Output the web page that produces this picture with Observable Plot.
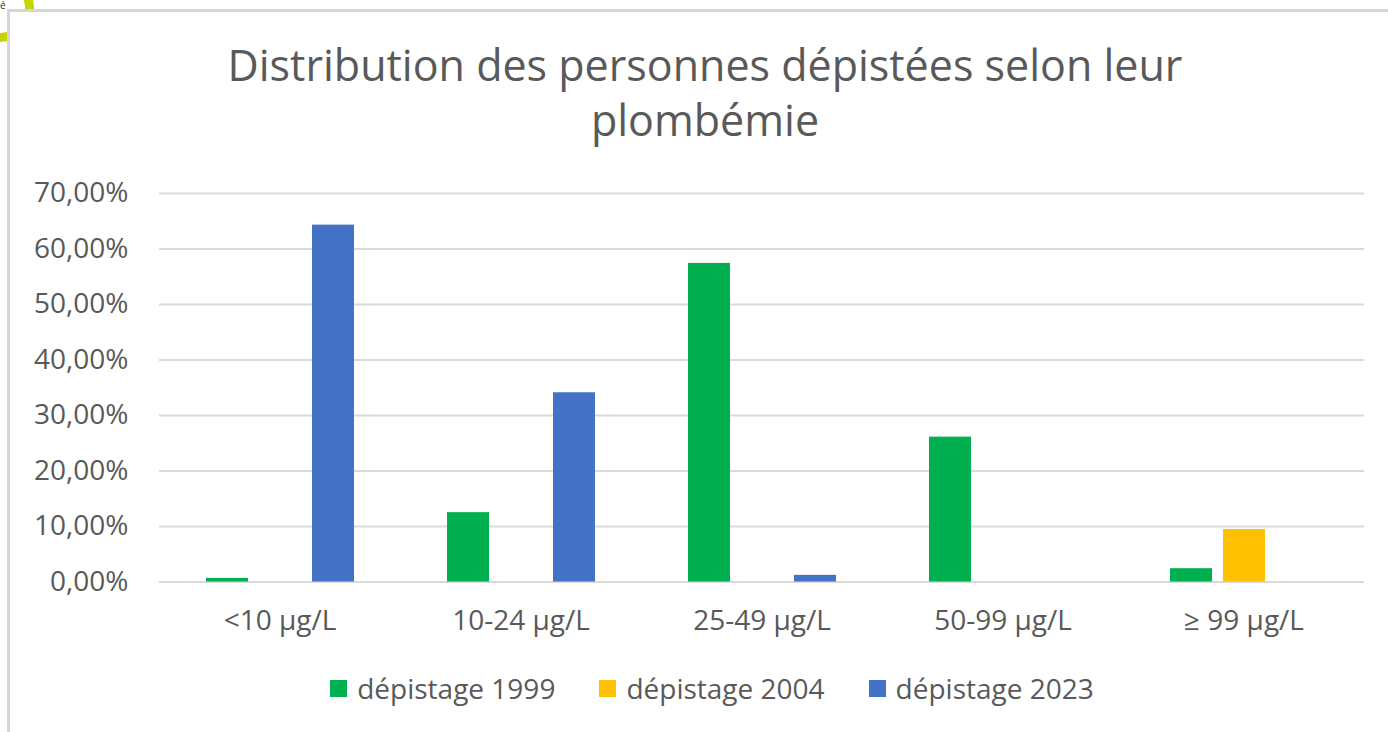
<!DOCTYPE html>
<html>
<head>
<meta charset="utf-8">
<script src="https://cdn.jsdelivr.net/npm/d3@7"></script>
<script src="https://cdn.jsdelivr.net/npm/@observablehq/plot@0.6"></script>
<style>
  html, body { margin: 0; padding: 0; background: #fff; }
  body { width: 1388px; height: 732px; position: relative; overflow: hidden; font-family: "Open Sans", sans-serif; color: #595959; }
  #arc { position: absolute; left: -34px; top: -26px; width: 50px; height: 50px; border: 9px solid #c8d400; border-radius: 50%; }
  #frame { position: absolute; left: 7px; top: 9px; width: 1400px; height: 740px; border-left: 3px solid #d6d6d6; border-top: 3px solid #d6d6d6; background: #fff; }
  #corner { position: absolute; left: 0; top: -2px; font-size: 10px; color: #333; }
  #title { position: absolute; left: 0; top: 37px; width: 1410px; text-align: center; font-size: 43px; line-height: 55px; color: #595959; }
  #chart { position: absolute; left: 0; top: 170px; }
  #legend { position: absolute; left: 0; top: 669px; width: 1424px; display: flex; justify-content: center; gap: 44px; font-size: 28px; line-height: 38px; color: #595959; }
  .item { display: flex; align-items: center; }
  .sw { width: 17px; height: 17px; margin-right: 10px; }
</style>
</head>
<body>
<div id="arc"></div>
<div id="frame"></div>
<div id="corner">é</div>
<div id="title">Distribution des personnes dépistées selon leur<br>plombémie</div>
<div id="chart"></div>
<div id="legend"></div>
<script>
const categories = ["<10 µg/L", "10-24 µg/L", "25-49 µg/L", "50-99 µg/L", "≥ 99 µg/L"];
const series = ["dépistage 1999", "dépistage 2004", "dépistage 2023"];
const colors = ["#00B050", "#FFC000", "#4472C4"];
const values1999 = [0.65, 12.5, 57.4, 26.1, 2.4];
const values2004 = [0, 0, 0, 0, 9.45];
const values2023 = [64.3, 34.1, 1.2, 0, 0];
const yTicks = [0, 10, 20, 30, 40, 50, 60, 70];

const allValues = [values1999, values2004, values2023];
const data = [];
categories.forEach((c, i) => {
  series.forEach((s, j) => {
    data.push({ category: c, series: s, value: allValues[j][i] });
  });
});

const fmt = d => d.toFixed(2).replace(".", ",") + "%";

const chart = Plot.plot({
  width: 1388,
  height: 472,
  marginLeft: 158,
  marginRight: 23,
  marginTop: 23,
  marginBottom: 60.5,
  style: { fontFamily: "Open Sans, sans-serif", fontSize: "28px", color: "#595959", background: "transparent", overflow: "visible" },
  fx: { domain: categories, padding: 0, label: null },
  x: { domain: series, paddingInner: 0.215, paddingOuter: 0.87, axis: null },
  y: { domain: [0, 70], label: null },
  color: { domain: series, range: colors },
  marks: [
    Plot.ruleY(yTicks, { stroke: "#d9d9d9", strokeWidth: 2 }),
    Plot.barY(data, { fx: "category", x: "series", y: "value", fill: "series" }),
    Plot.axisFx({ anchor: "bottom", tickSize: 0, tickPadding: 28, fontSize: 28, label: null, fill: "#595959" }),
    Plot.axisY({ ticks: yTicks, tickFormat: fmt, tickSize: 0, tickPadding: 31, fontSize: 28, label: null, fill: "#595959" })
  ]
});
document.getElementById("chart").appendChild(chart);

const legend = document.getElementById("legend");
series.forEach((s, j) => {
  const item = document.createElement("div");
  item.className = "item";
  const sw = document.createElement("div");
  sw.className = "sw";
  sw.style.background = colors[j];
  const t = document.createElement("span");
  t.textContent = s;
  item.appendChild(sw); item.appendChild(t);
  legend.appendChild(item);
});
</script>
</body>
</html>
